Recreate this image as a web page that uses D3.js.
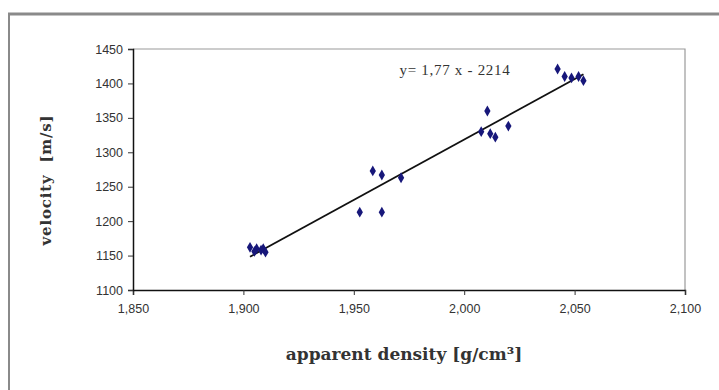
<!DOCTYPE html>
<html>
<head>
<meta charset="utf-8">
<script src="https://cdn.jsdelivr.net/npm/d3@7"></script>
<style>
  body { margin: 0; background: #fff; }
  svg { display: block; }
</style>
</head>
<body>
<div class="chart"></div>
<script>
// measured points: apparent density (g/cm3) and velocity (m/s)
var density = [1.903, 1.906, 1.908, 1.909, 1.910, 1.905,
               1.9586, 1.9627, 1.9527, 1.9627, 1.9714,
               2.0105, 2.0077, 2.0118, 2.0141, 2.0200,
               2.0423, 2.0455, 2.0486, 2.0518, 2.0540];
var velocity = [1162, 1160, 1158, 1160, 1155, 1156,
                1273, 1267, 1213, 1213, 1263,
                1360, 1330, 1327, 1322, 1338,
                1421, 1410, 1408, 1410, 1404];
var xTicks = [1.85, 1.90, 1.95, 2.00, 2.05, 2.10];
var yTicks = [1100, 1150, 1200, 1250, 1300, 1350, 1400, 1450];
var equation = "y= 1,77 x - 2214";

var width = 719, height = 390;
var plotL = 133, plotR = 685, plotT = 49, plotB = 290;

var svg = d3.select(".chart").append("svg")
  .attr("width", width)
  .attr("height", height);

// outer frame
svg.append("line").attr("x1", 8).attr("x2", width).attr("y1", 14).attr("y2", 14)
  .attr("stroke", "#8a8a8a").attr("stroke-width", 3);
svg.append("line").attr("x1", 9).attr("x2", 9).attr("y1", 13).attr("y2", height)
  .attr("stroke", "#8a8a8a").attr("stroke-width", 2);

var x = d3.scaleLinear().domain([1.85, 2.10]).range([plotL, plotR]);
var y = d3.scaleLinear().domain([1100, 1450]).range([plotB, plotT]);

// plot area border (top/right)
svg.append("path")
  .attr("d", "M" + plotL + "," + plotT + "H" + plotR + "V" + plotB)
  .attr("fill", "none").attr("stroke", "#9a9a9a").attr("stroke-width", 1.2);

var fmt = function(d) { return d3.format(".3f")(d).replace(".", ","); };

var xAxis = svg.append("g")
  .attr("transform", "translate(0," + plotB + ")")
  .call(d3.axisBottom(x).tickValues(xTicks).tickFormat(fmt).tickSize(5).tickPadding(9));
var yAxis = svg.append("g")
  .attr("transform", "translate(" + plotL + ",0)")
  .call(d3.axisLeft(y).tickValues(yTicks).tickFormat(d3.format("d")).tickSize(5).tickPadding(5));

[xAxis, yAxis].forEach(function(a) {
  a.select(".domain").attr("stroke", "#111").attr("stroke-width", 1.5);
  a.selectAll(".tick line").attr("stroke", "#333");
  a.selectAll("text")
    .attr("font-family", "Liberation Sans, Arial, sans-serif")
    .attr("font-size", 12.5)
    .attr("fill", "#333");
});

// trend line: least squares through the points
var n = density.length;
var mx = d3.mean(density), my = d3.mean(velocity);
var sxy = 0, sxx = 0;
for (var i = 0; i < n; i++) {
  sxy += (density[i] - mx) * (velocity[i] - my);
  sxx += (density[i] - mx) * (density[i] - mx);
}
var slope = sxy / sxx, icpt = my - slope * mx;
var x0 = d3.min(density), x1 = d3.max(density);
svg.append("line")
  .attr("x1", x(x0)).attr("y1", y(icpt + slope * x0))
  .attr("x2", x(x1)).attr("y2", y(icpt + slope * x1))
  .attr("stroke", "#111").attr("stroke-width", 1.8);

// points
var pts = density.map(function(d, i) { return { d: d, v: velocity[i] }; });
svg.selectAll(".pt")
  .data(pts)
  .enter().append("path")
  .attr("class", "pt")
  .attr("transform", function(p) { return "translate(" + x(p.d) + "," + y(p.v) + ")"; })
  .attr("d", d3.symbol().type(d3.symbolDiamond).size(34))
  .attr("fill", "#17177a");

// equation label
svg.append("text")
  .attr("x", 455).attr("y", 75)
  .attr("text-anchor", "middle")
  .attr("font-family", "Liberation Serif, Times New Roman, serif")
  .attr("font-size", 15)
  .attr("letter-spacing", 0.7)
  .attr("fill", "#333")
  .text(equation);

// axis titles
svg.append("text")
  .attr("transform", "translate(51,180) rotate(-90)")
  .attr("text-anchor", "middle")
  .attr("font-family", "DejaVu Serif, serif")
  .attr("font-weight", "bold")
  .attr("font-size", 15)
  .attr("letter-spacing", 0.8)
  .attr("fill", "#333")
  .attr("xml:space", "preserve")
  .text("velocity  [m/s]");

svg.append("text")
  .attr("x", 404).attr("y", 360)
  .attr("text-anchor", "middle")
  .attr("font-family", "DejaVu Serif, serif")
  .attr("font-weight", "bold")
  .attr("font-size", 17)
  .attr("fill", "#333")
  .text("apparent density [g/cm³]");
</script>
</body>
</html>
